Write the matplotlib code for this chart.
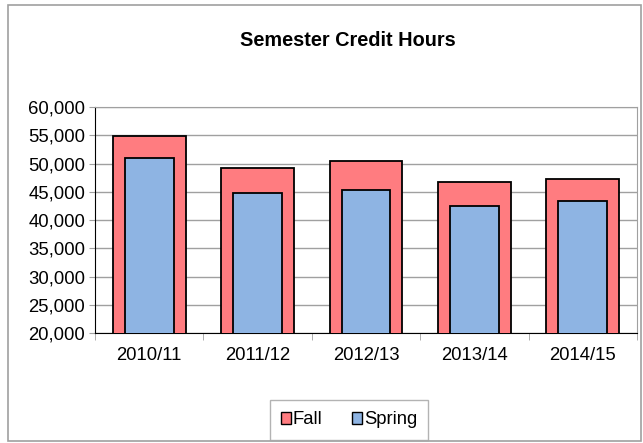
import matplotlib.pyplot as plt
import matplotlib.patches as mpatches
from matplotlib.ticker import FuncFormatter
import numpy as np

plt.rcParams['font.family'] = ['Liberation Sans', 'DejaVu Sans']

years = ["2010/11", "2011/12", "2012/13", "2013/14", "2014/15"]
fall = [54900, 49200, 50400, 46800, 47300]
spring = [51000, 44800, 45300, 42500, 43300]

fall_color = "#ff7c80"
spring_color = "#8eb4e3"

W, H = 643, 443
fig = plt.figure(figsize=(W / 100, H / 100), dpi=100)
# outer chart border
fig.patches.append(mpatches.Rectangle((8 / W, 2 / H), 633 / W, 436 / H, transform=fig.transFigure,
                                      fill=False, edgecolor="#a0a0a0", linewidth=1.2))
ax = fig.add_axes([95 / W, 1 - 333 / H, (637 - 95) / W, (333 - 107) / H])

x = np.arange(len(years))
ax.bar(x, fall, width=0.67, color=fall_color, edgecolor="black", linewidth=1.3, zorder=3)
ax.bar(x, spring, width=0.45, color=spring_color, edgecolor="black", linewidth=1.3, zorder=4)

ax.set_ylim(20000, 60000)
ax.set_xlim(-0.5, len(years) - 0.5)
ax.set_yticks(range(20000, 60001, 5000))
ax.yaxis.set_major_formatter(FuncFormatter(lambda v, p: f"{int(v):,}"))
ax.set_xticks(x)
ax.set_xticklabels(years)
ax.set_xticks(np.arange(-0.5, len(years), 1), minor=True)
ax.tick_params(axis="x", which="major", length=0, labelsize=13.3, pad=10)
ax.tick_params(axis="x", which="minor", length=5, color="#a0a0a0")
ax.tick_params(axis="y", length=4, labelsize=13.3, color="#a0a0a0", pad=3)
ax.grid(axis="y", color="#a0a0a0", linewidth=1, zorder=0)
ax.set_axisbelow(True)

ax.spines["left"].set_color("black")
ax.spines["bottom"].set_color("black")
ax.spines["top"].set_color("#a0a0a0")
ax.spines["right"].set_color("#a0a0a0")

fig.text(348 / W, 1 - 40 / H, "Semester Credit Hours", ha="center", va="center",
         fontsize=14.3, fontweight="bold")

handles = [mpatches.Patch(facecolor=fall_color, edgecolor="black", label="Fall"),
           mpatches.Patch(facecolor=spring_color, edgecolor="black", label="Spring")]
leg = fig.legend(handles=handles, loc="center", bbox_to_anchor=(349 / W, 1 - 420 / H),
                 ncol=2, frameon=True, fancybox=False, fontsize=13.3,
                 handlelength=0.55, handleheight=0.55, handletextpad=0.1, columnspacing=1.6,
                 borderpad=0.6, borderaxespad=0)
leg.get_frame().set_edgecolor("#a0a0a0")
leg.get_frame().set_linewidth(1)

fig.savefig("out.png", dpi=100)
